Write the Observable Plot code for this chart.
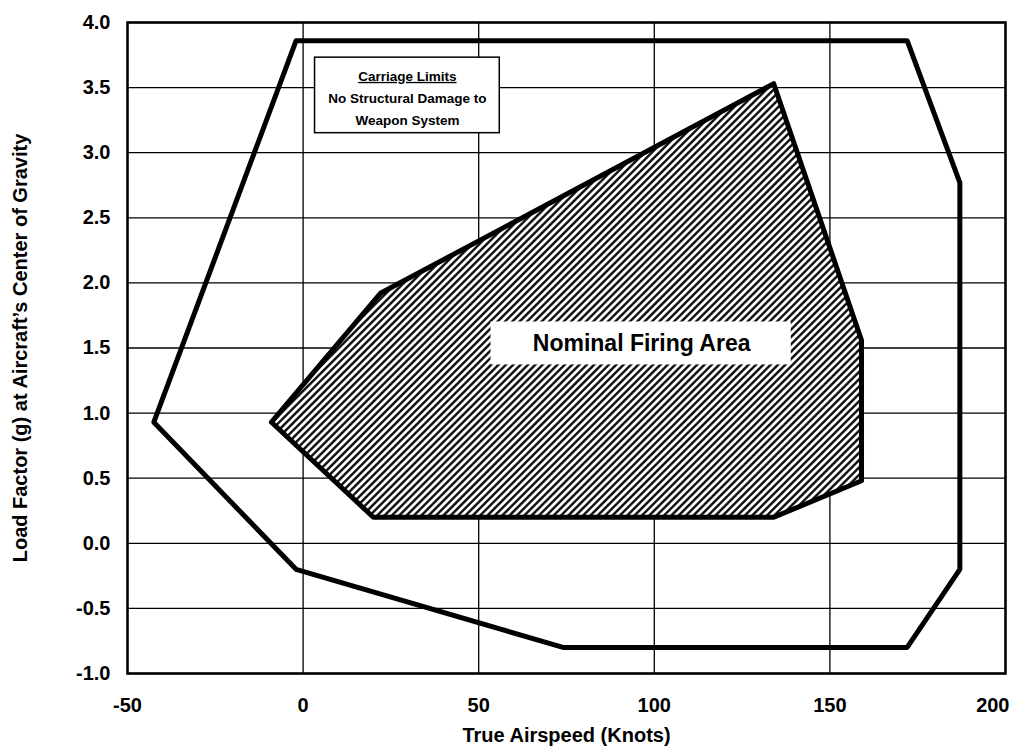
<!DOCTYPE html>
<html>
<head>
<meta charset="utf-8">
<script src="https://cdn.jsdelivr.net/npm/d3@7"></script>
<script src="https://cdn.jsdelivr.net/npm/@observablehq/plot@0.6"></script>
<style>
  html, body { margin: 0; padding: 0; background: #fff; }
</style>
</head>
<body>
<div id="chart"></div>
<script>
// Carriage limits envelope (outer polygon)
const outerSpeed = [-2, 172, 187, 187, 172, 74, -2, -42.5, -2];
const outerLoad  = [3.86, 3.86, 2.77, -0.2, -0.8, -0.8, -0.2, 0.93, 3.86];

// Nominal firing area (inner hatched polygon)
const innerSpeed = [-9, 20, 134, 159, 159, 134, 22, -9];
const innerLoad  = [0.93, 0.2, 0.2, 0.48, 1.56, 3.53, 1.92, 0.93];

// Axis ticks
const xTicks = [-50, 0, 50, 100, 150, 200];
const yTicks = [-1, -0.5, 0, 0.5, 1, 1.5, 2, 2.5, 3, 3.5, 4];

// Annotations
const noteLines = ["Carriage Limits", "No Structural Damage to", "Weapon System"];
const noteLineLoad = [3.585, 3.416, 3.247];
const noteSpeed = [29.7, 29.7, 29.7];
const noteBoxSpeed = [3.4, 56];
const noteBoxLoad = [3.15, 3.73];

const areaLabel = ["Nominal Firing Area"];
const areaLabelSpeed = [96.4];
const areaLabelLoad = [1.53];
const areaBoxSpeed = [53.5, 139];
const areaBoxLoad = [1.37, 1.70];

const outer = outerSpeed.map((s, i) => ({speed: s, load: outerLoad[i]}));
const inner = innerSpeed.map((s, i) => ({speed: s, load: innerLoad[i]}));
const notes = noteLines.map((t, i) => ({text: t, speed: noteSpeed[i], load: noteLineLoad[i]}));
const noteBox = [{x1: noteBoxSpeed[0], x2: noteBoxSpeed[1], y1: noteBoxLoad[0], y2: noteBoxLoad[1]}];
const areaBox = [{x1: areaBoxSpeed[0], x2: areaBoxSpeed[1], y1: areaBoxLoad[0], y2: areaBoxLoad[1]}];
const areaText = areaLabel.map((t, i) => ({text: t, speed: areaLabelSpeed[i], load: areaLabelLoad[i]}));

const lastX = xTicks[xTicks.length - 1];

const svg = Plot.plot({
  width: 1011,
  height: 748,
  marginLeft: 127,
  marginRight: 6,
  marginTop: 22,
  marginBottom: 75,
  style: {fontFamily: "'Liberation Sans', Arial, sans-serif", fontSize: "20px", fontWeight: "bold", color: "black", background: "white"},
  x: {domain: [-50, 200]},
  y: {domain: [-1, 4]},
  marks: [
    Plot.gridX(xTicks, {stroke: "black", strokeOpacity: 1, strokeWidth: 1.3}),
    Plot.gridY(yTicks, {stroke: "black", strokeOpacity: 1, strokeWidth: 1.3}),
    Plot.frame({stroke: "black", strokeWidth: 2.5}),
    Plot.line(outer, {x: "speed", y: "load", stroke: "black", strokeWidth: 5, strokeLinejoin: "round", strokeLinecap: "round"}),
    Plot.line(inner, {x: "speed", y: "load", fill: "url(#hatch)", stroke: "black", strokeWidth: 5, strokeLinejoin: "round", strokeLinecap: "round"}),
    Plot.rect(areaBox, {x1: "x1", x2: "x2", y1: "y1", y2: "y2", fill: "white"}),
    Plot.text(areaText, {x: "speed", y: "load", text: "text", fontSize: 23, fill: "black"}),
    Plot.rect(noteBox, {x1: "x1", x2: "x2", y1: "y1", y2: "y2", fill: "white", stroke: "black", strokeWidth: 1.5}),
    Plot.text(notes, {x: "speed", y: "load", text: "text", fontSize: 13.5, fill: "black"}),
    Plot.axisX(xTicks.slice(0, -1), {tickSize: 0, tickPadding: 24, tickFormat: d => String(d),
      label: "True Airspeed (Knots)", labelAnchor: "center", labelOffset: 68, labelArrow: "none"}),
    Plot.axisX([lastX], {tickSize: 0, tickPadding: 24, tickFormat: d => String(d), textAnchor: "end", dx: 4, label: null}),
    Plot.axisY({ticks: yTicks, tickSize: 0, tickPadding: 17, tickFormat: d => d.toFixed(1),
      label: "Load Factor (g) at Aircraft\u2019s Center of Gravity", labelAnchor: "center", labelOffset: 115, labelArrow: "none"})
  ]
});

// Hatch pattern definition
const root = d3.select(svg);
const defs = root.insert("defs", ":first-child");
const pat = defs.append("pattern")
  .attr("id", "hatch")
  .attr("patternUnits", "userSpaceOnUse")
  .attr("width", 5.2).attr("height", 5.2)
  .attr("patternTransform", "rotate(45)");
pat.append("rect").attr("width", 5.2).attr("height", 5.2).attr("fill", "white");
pat.append("line").attr("x1", 1.3).attr("y1", -1).attr("x2", 1.3).attr("y2", 6.2)
  .attr("stroke", "black").attr("stroke-width", 2.3);

// Underline the box heading
root.selectAll("text").filter(function() { return this.textContent === "Carriage Limits"; })
  .style("text-decoration", "underline");

document.getElementById("chart").appendChild(svg);
</script>
</body>
</html>
